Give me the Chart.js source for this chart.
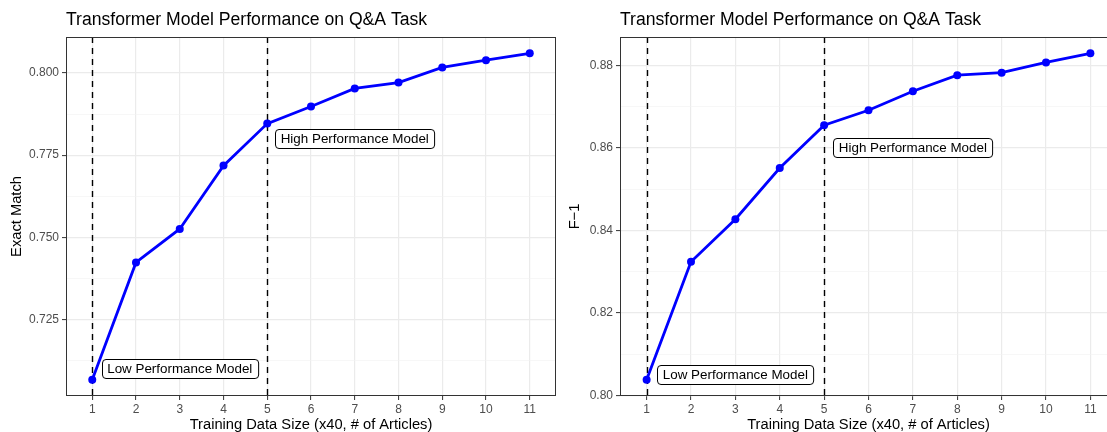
<!DOCTYPE html>
<html>
<head>
<meta charset="utf-8">
<script src="https://cdn.jsdelivr.net/npm/chart.js@4.4.0/dist/chart.umd.min.js"></script>
<style>
    html, body { margin: 0; padding: 0; background: #fff; width: 1107px; height: 432px; overflow: hidden; position: relative; }
    canvas { position: absolute; top: 0; }
    #emChart { left: 0; }
    #f1Chart { left: 565px; }
</style>
</head>
<body>
<canvas id="emChart" width="560" height="432"></canvas>
<canvas id="f1Chart" width="556" height="432"></canvas>
<script>
// --- data ---
const trainingSizes = [1, 2, 3, 4, 5, 6, 7, 8, 9, 10, 11];
const exactMatch = [0.7066, 0.7423, 0.7525, 0.7718, 0.7846, 0.7898, 0.7953, 0.7971, 0.8017, 0.8039, 0.8060];
const f1Scores = [0.8038, 0.8324, 0.8427, 0.8551, 0.8655, 0.8691, 0.8737, 0.8776, 0.8782, 0.8807, 0.8829];

const dividerSizes = [1, 5];
const noteTexts = ["Low Performance Model", "High Performance Model"];
const noteSizes = [3, 7];
const emNoteValues = [0.71, 0.78];
const f1NoteValues = [0.805, 0.86];

const emMajorTicks = [0.725, 0.75, 0.775, 0.8];
const emMinorTicks = [0.7125, 0.7375, 0.7625, 0.7875];
const f1MajorTicks = [0.80, 0.82, 0.84, 0.86, 0.88];
const f1MinorTicks = [0.81, 0.83, 0.85, 0.87];

const FONT = '"Liberation Sans", Arial, Helvetica, sans-serif';

// --- dashed dividers, label boxes and the panel border ---
const panelExtras = {
    id: 'panelExtras',
    beforeDatasetsDraw(chart) {
        const { ctx, chartArea: a, scales: { x } } = chart;
        ctx.save();
        ctx.strokeStyle = '#000';
        ctx.lineWidth = 1.4;
        ctx.setLineDash([6, 5]);
        dividerSizes.forEach(v => {
            const px = Math.round(x.getPixelForValue(v)) + 0.5;
            ctx.beginPath();
            ctx.moveTo(px, a.top);
            ctx.lineTo(px, a.bottom);
            ctx.stroke();
        });
        ctx.restore();
    },
    afterDatasetsDraw(chart, args, opts) {
        const { ctx, chartArea: a, scales: { x, y } } = chart;
        ctx.save();
        ctx.font = '13.4px ' + FONT;
        ctx.textAlign = 'center';
        ctx.textBaseline = 'middle';
        noteTexts.forEach((t, i) => {
            const cx = x.getPixelForValue(noteSizes[i]);
            const cy = y.getPixelForValue(opts.noteValues[i]);
            const w = ctx.measureText(t).width + 11;
            const h = 19;
            const l = Math.round(cx - w / 2) + 0.5, tp = Math.round(cy - h / 2) + 0.5, r = 3.5;
            ctx.beginPath();
            ctx.moveTo(l + r, tp);
            ctx.arcTo(l + w, tp, l + w, tp + h, r);
            ctx.arcTo(l + w, tp + h, l, tp + h, r);
            ctx.arcTo(l, tp + h, l, tp, r);
            ctx.arcTo(l, tp, l + w, tp, r);
            ctx.closePath();
            ctx.fillStyle = '#fff';
            ctx.fill();
            ctx.strokeStyle = '#000';
            ctx.lineWidth = 1;
            ctx.stroke();
            ctx.fillStyle = '#000';
            ctx.fillText(t, cx, cy + 0.5);
        });
        // panel border
        ctx.strokeStyle = '#333333';
        ctx.lineWidth = 1;
        ctx.strokeRect(Math.round(a.left) + 0.5, Math.round(a.top) + 0.5,
            Math.round(a.right - a.left) - 1, Math.round(a.bottom - a.top) - 1);
        ctx.restore();
    }
};

function isIn(list, v) {
    return list.some(m => Math.abs(m - v) < 1e-9);
}

function makeChart(canvasId, yLabel, values, noteValues, major, minor, digits, yWidth, yTitlePad, padRight) {
    const lo = Math.min(...values), hi = Math.max(...values);
    const span = hi - lo;
    const minor_ = v => isIn(minor, v);

    return new Chart(document.getElementById(canvasId), {
        type: 'line',
        data: {
            datasets: [{
                data: trainingSizes.map((s, i) => ({ x: s, y: values[i] })),
                borderColor: '#0000FF',
                backgroundColor: '#0000FF',
                borderWidth: 2.8,
                pointRadius: 4,
                pointBorderWidth: 0,
                tension: 0
            }]
        },
        options: {
            responsive: false,
            animation: false,
            layout: { padding: { left: 0, right: padRight, top: 0, bottom: 0 } },
            plugins: {
                legend: { display: false },
                tooltip: { enabled: false },
                title: {
                    display: true,
                    text: 'Transformer Model Performance on Q&A Task',
                    align: 'start',
                    fullSize: false,
                    color: '#000',
                    font: { family: FONT, size: 17.6, weight: 'normal' },
                    padding: { top: 10, bottom: 5.9 }
                },
                panelExtras: { noteValues: noteValues }
            },
            scales: {
                x: {
                    type: 'linear',
                    min: 0.4,
                    max: 11.6,
                    afterBuildTicks: s => { s.ticks = trainingSizes.map(v => ({ value: v })); },
                    afterFit: s => { s.height = 36; },
                    border: { display: false },
                    grid: { color: '#EBEBEB', lineWidth: 1.2, tickColor: '#333333', tickLength: 4, tickWidth: 1 },
                    ticks: {
                        color: '#4D4D4D',
                        font: { family: FONT, size: 12 },
                        padding: 2,
                        autoSkip: false,
                        maxRotation: 0,
                        callback: v => String(v)
                    },
                    title: {
                        display: true,
                        text: 'Training Data Size (x40, # of Articles)',
                        color: '#000',
                        font: { family: FONT, size: 14.7 },
                        padding: { top: 0, bottom: -1.5 }
                    }
                },
                y: {
                    type: 'linear',
                    min: lo - span * 0.05,
                    max: hi + span * 0.05,
                    afterBuildTicks: s => {
                        s.ticks = major.concat(minor).sort((a, b) => a - b).map(v => ({ value: v }));
                    },
                    afterFit: s => { s.width = yWidth; },
                    border: { display: false },
                    grid: {
                        color: c => (c.tick && minor_(c.tick.value)) ? '#F2F2F2' : '#EBEBEB',
                        lineWidth: c => (c.tick && minor_(c.tick.value)) ? 0.6 : 1.2,
                        tickColor: c => (c.tick && minor_(c.tick.value)) ? 'rgba(0,0,0,0)' : '#333333',
                        tickLength: 4,
                        tickWidth: 1
                    },
                    ticks: {
                        color: '#4D4D4D',
                        font: { family: FONT, size: 12 },
                        padding: 3,
                        autoSkip: false,
                        callback: v => minor_(v) ? '' : v.toFixed(digits)
                    },
                    title: {
                        display: true,
                        text: yLabel,
                        color: '#000',
                        font: { family: FONT, size: 14.7 },
                        padding: { top: yTitlePad, bottom: 0 }
                    }
                }
            }
        },
        plugins: [panelExtras]
    });
}

makeChart('emChart', 'Exact Match', exactMatch, emNoteValues, emMajorTicks, emMinorTicks, 3, 66, 7.9, 2);
makeChart('f1Chart', 'F\u22121', f1Scores, f1NoteValues, f1MajorTicks, f1MinorTicks, 2, 55, 1.5, 2);
</script>
</body>
</html>
